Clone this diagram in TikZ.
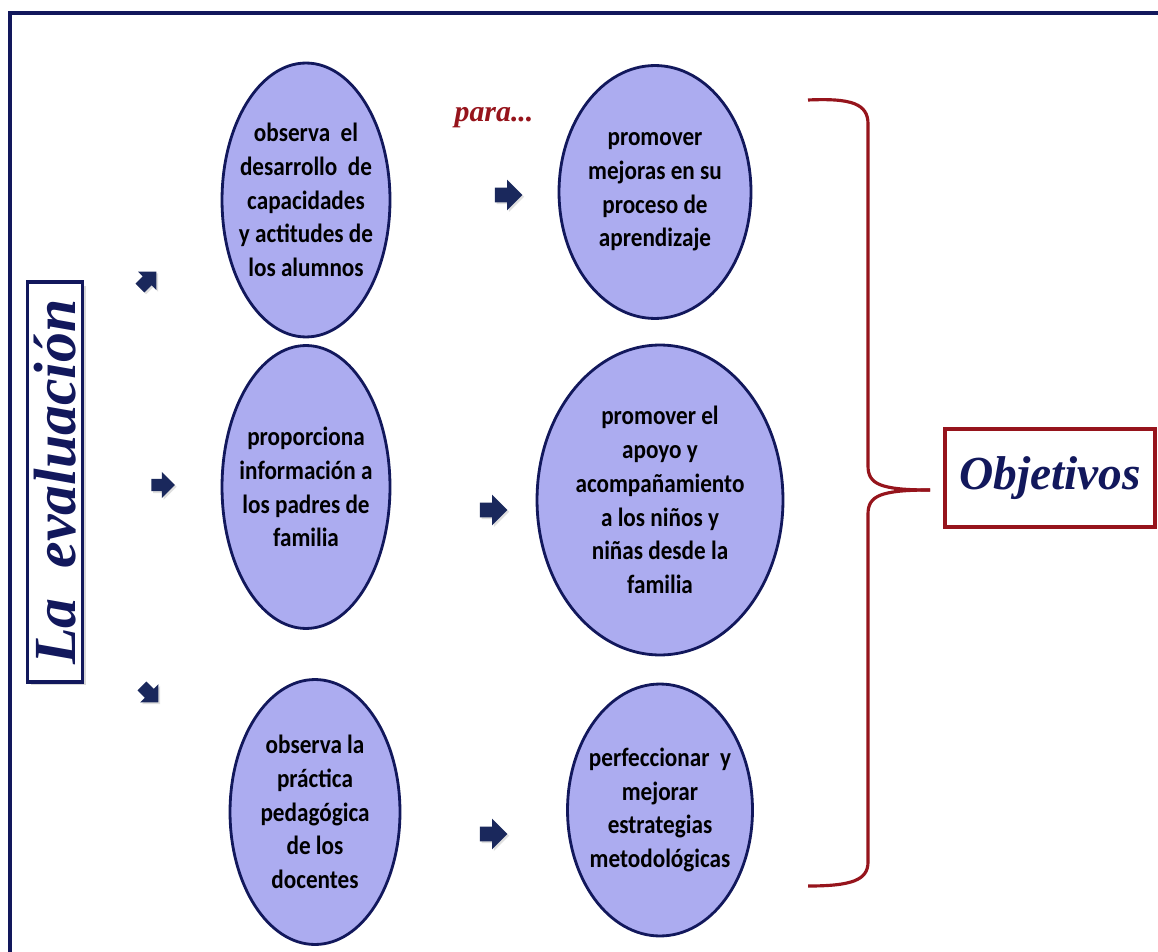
\documentclass[tikz,border=0pt]{standalone}
\usepackage{fontspec}
\setmainfont{Carlito}[FakeStretch=0.88]
\newfontfamily\tituloFont{Liberation Serif}
\usetikzlibrary{positioning}
\usetikzlibrary{shapes.geometric, shapes.arrows}
\usetikzlibrary{shadows}
\definecolor{marino}{RGB}{18,24,92}
\definecolor{lavanda}{RGB}{172,172,240}
\definecolor{vino}{RGB}{150,20,28}
\definecolor{flechaazul}{RGB}{26,40,92}
\tikzset{
	accion/.style={draw=marino, ellipse, line width=1.6pt, fill=lavanda, inner xsep=-0.25cm, inner ysep=0pt, align=center, font=\bfseries\fontsize{15}{19.2}\selectfont},
	meta/.style={accion},
	% flechas sueltas entre columnas
	flecha/.style={single arrow, draw=none, fill=flechaazul, minimum height=0.55cm, minimum width=0.6cm, inner sep=0.14cm, single arrow head extend=0.16cm, drop shadow={opacity=0.25, shadow xshift=1pt, shadow yshift=-1pt}},
	titulo/.style={draw, rectangle, line width=2pt, fill=white, text=marino, font=\tituloFont\bfseries\itshape},
}

\begin{document}
\begin{tikzpicture}[x=0.02cm, y=-0.02cm]
		
		\useasboundingbox (0,0) rectangle (1158,952);
		\fill[white] (0,0) rectangle (1158,952);
		\draw[marino, line width=2.3pt] (10,952) -- (10,13) -- (1158,13);
		
		\node (eva) [titulo, draw=marino, rotate=90, minimum width=8cm, minimum height=1.1cm, inner sep=0pt, font=\tituloFont\bfseries\itshape\fontsize{34}{34}\selectfont, drop shadow={opacity=0.3, shadow xshift=2pt, shadow yshift=-2pt}] at (55,482) {La\ \ evaluación};
		
		\node (e1) [accion, minimum width=3.36cm, minimum height=5.48cm] at (306,200) {observa\ \ el\\desarrollo\ \ de\\capacidades\\y actitudes de\\los alumnos};
		\node (e2) [accion, minimum width=3.36cm, minimum height=5.66cm] at (306,487) {proporciona\\información a\\los padres de\\familia};
		\node (e3) [accion, minimum width=3.4cm, minimum height=5.3cm] at (315,812) {observa la\\práctica\\pedagógica\\de los\\docentes};
		
		\node (r1) [meta, minimum width=3.84cm, minimum height=5.06cm] at (655,192) {promover\\mejoras en su\\proceso de\\aprendizaje};
		\node (r2) [meta, minimum width=4.92cm, minimum height=6.2cm] at (660,500) {promover el\\apoyo y\\acompañamiento\\a los niños y\\niñas desde la\\familia};
		\node (r3) [meta, minimum width=3.7cm, minimum height=5.04cm] at (660,810) {perfeccionar\ \ y\\mejorar\\estrategias\\metodológicas};
		
		\node (para) [text=vino, font=\tituloFont\bfseries\itshape\fontsize{17}{17}\selectfont] at (494,118) {para...};
		
		\node (a1) [flecha, scale=0.85, rotate=45] at (146,282) {};
		\node (a2) [flecha, scale=0.85] at (160,485) {};
		\node (a3) [flecha, scale=0.85, rotate=-45] at (148,692) {};
		\node (b1) [flecha] at (505,195) {};
		\node (b2) [flecha] at (490,510) {};
		\node (b3) [flecha] at (490,834) {};
		
		\node (obj) [titulo, draw=vino, minimum width=4.2cm, minimum height=1.96cm, font=\tituloFont\bfseries\itshape\fontsize{27}{27}\selectfont] at (1050,478) {Objetivos};
		\coordinate (pico) at (930,490);
		
		\draw[vino, line width=1.8pt] (808,100) .. controls (852,98) and (868,104) .. (868,124) -- (868,466) .. controls (868,484) and (880,490) .. (pico);
		\draw[vino, line width=1.8pt] (pico) .. controls (880,490) and (868,496) .. (868,514) -- (868,862) .. controls (868,880) and (852,886) .. (808,886);
		
	\end{tikzpicture}
\end{document}
